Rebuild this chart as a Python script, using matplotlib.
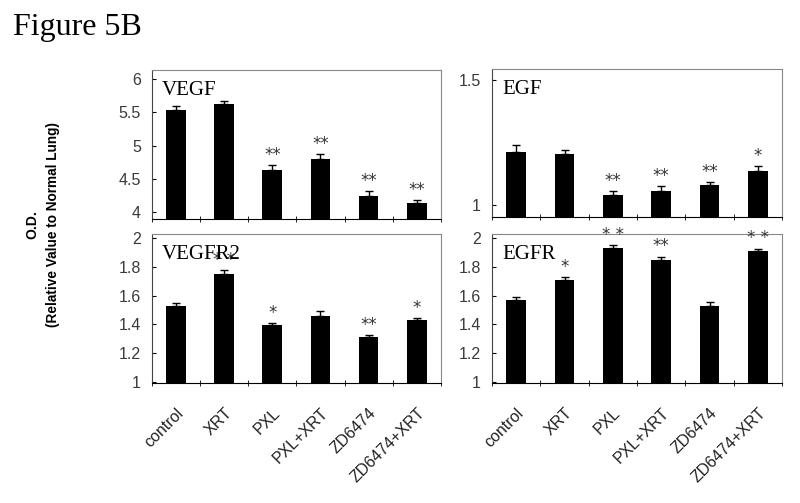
import matplotlib
matplotlib.use("Agg")
import matplotlib.pyplot as plt
import numpy as np

groups = ["control", "XRT", "PXL", "PXL+XRT", "ZD6474", "ZD6474+XRT"]

vegf = [5.53, 5.62, 4.63, 4.80, 4.24, 4.14]
vegf_err = [0.07, 0.05, 0.07, 0.07, 0.07, 0.04]
vegf_sig = ["", "", "**", "**", "**", "**"]

egf = [1.212, 1.204, 1.040, 1.056, 1.080, 1.136]
egf_err = [0.028, 0.016, 0.016, 0.02, 0.012, 0.02]
egf_sig = ["", "", "**", "**", "**", "*"]

vegfr2 = [1.528, 1.75, 1.396, 1.458, 1.31, 1.43]
vegfr2_err = [0.02, 0.028, 0.012, 0.035, 0.014, 0.012]
vegfr2_sig = ["", "* *", "*", "", "**", "*"]

egfr = [1.57, 1.71, 1.93, 1.85, 1.53, 1.91]
egfr_err = [0.02, 0.02, 0.02, 0.02, 0.028, 0.015]
egfr_sig = ["", "*", "* *", "**", "", "* *"]

fig = plt.figure(figsize=(8, 5.03), dpi=100)

panels = [
    # name, values, errors, stars, ylim, yticks, ticklabels, rect, x labels?
    ("VEGF", vegf, vegf_err, vegf_sig, (3.895, 6.135), [4, 4.5, 5, 5.5, 6],
     ["4", "4.5", "5", "5.5", "6"], [0.19, 0.5646, 0.361, 0.2962], False),
    ("EGF", egf, egf_err, egf_sig, (0.952, 1.544), [1, 1.5],
     ["1", "1.5"], [0.615, 0.5686, 0.3625, 0.294], False),
    ("VEGFR2", vegfr2, vegfr2_err, vegfr2_sig, (0.993, 2.028), [1, 1.2, 1.4, 1.6, 1.8, 2],
     ["1", "1.2", "1.4", "1.6", "1.8", "2"], [0.19, 0.2386, 0.361, 0.2962], True),
    ("EGFR", egfr, egfr_err, egfr_sig, (0.993, 2.028), [1, 1.2, 1.4, 1.6, 1.8, 2],
     ["1", "1.2", "1.4", "1.6", "1.8", "2"], [0.615, 0.2386, 0.3625, 0.2962], True),
]

x = np.arange(len(groups))
for name, vals, errs, sig, ylim, yt, ytl, rect, show_x in panels:
    ax = fig.add_axes(rect)
    ax.bar(x, vals, width=0.41, color="black", zorder=2)
    ax.errorbar(x, vals, yerr=[[0] * len(errs), errs], fmt="none",
                ecolor="black", elinewidth=1, capsize=3, capthick=1, zorder=3)
    for xi, v, e, s in zip(x, vals, errs, sig):
        if s:
            ax.annotate(s, (xi, v + e), xytext=(0, 1), textcoords="offset points",
                        ha="center", va="bottom", fontsize=12, color="#333333",
                        family="DejaVu Sans")
    ax.set_xlim(-0.5, len(groups) - 0.5)
    ax.set_ylim(*ylim)
    ax.set_yticks(yt)
    ax.set_yticklabels(ytl, fontsize=11.5, color="#3a3a3a", family="Liberation Sans")
    ax.tick_params(axis="y", direction="in", length=3, pad=8)
    ax.set_xticks(x)
    if show_x:
        ax.set_xticklabels(groups, rotation=45, ha="right", va="top",
                           rotation_mode="anchor", fontsize=11.5, color="#222222",
                           family="Liberation Sans")
    else:
        ax.set_xticklabels([])
    ax.tick_params(axis="x", length=0, pad=16)
    ax.set_xticks(np.arange(-0.5, len(groups), 1), minor=True)
    ax.tick_params(axis="x", which="minor", direction="inout", length=4)
    ax.spines["top"].set_color("#888888")
    ax.spines["right"].set_color("#888888")
    ax.spines["left"].set_color("#444444")
    ax.spines["bottom"].set_color("black")
    ax.text(0.035, 0.865, name, transform=ax.transAxes, fontsize=15,
            family="Liberation Serif", va="center", ha="left")

fig.text(0.016, 0.946, "Figure 5B", fontsize=23, family="Liberation Serif",
         va="center", ha="left")
fig.text(0.041, 0.553, "O.D.", rotation=90, fontsize=10, fontweight="bold",
         family="Liberation Sans", ha="center", va="center")
fig.text(0.066, 0.553, "(Relative Value to Normal Lung)", rotation=90, fontsize=9.8,
         fontweight="bold", family="Liberation Sans", ha="center", va="center")

fig.savefig("out.png", dpi=100)
